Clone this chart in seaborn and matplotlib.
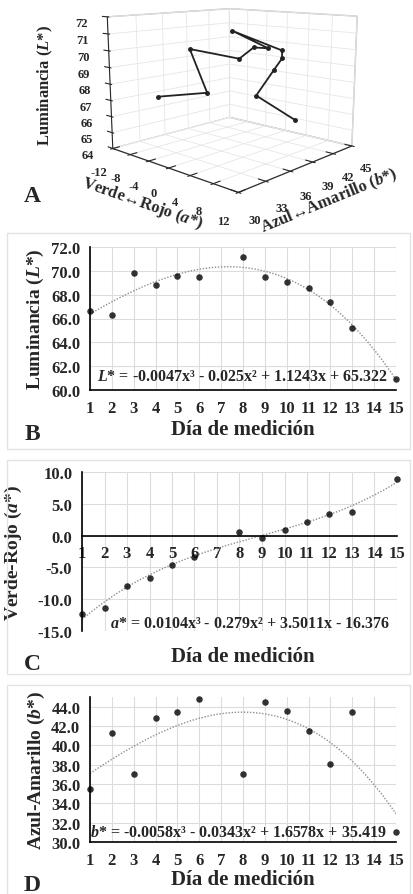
# -*- coding: utf-8 -*-
# color del producto por dia de medicion: L*, a*, b*
import numpy as np
import matplotlib
matplotlib.use("Agg")
import matplotlib.pyplot as plt
from matplotlib.patches import Rectangle
import seaborn as sns

sns.set_style("white")
plt.rcParams['font.family'] = ['Liberation Serif', 'DejaVu Serif']
plt.rcParams['font.weight'] = 'bold'
plt.rcParams['axes.labelweight'] = 'bold'
plt.rcParams['axes.unicode_minus'] = False
plt.rcParams['mathtext.fontset'] = 'custom'
plt.rcParams['mathtext.it'] = 'Liberation Serif:italic:bold'
plt.rcParams['mathtext.rm'] = 'Liberation Serif:bold'

dias = [1, 2, 3, 4, 5, 6, 8, 9, 10, 11, 12, 13, 15]
L_star = [66.6, 66.3, 69.8, 68.8, 69.6, 69.5, 71.2, 69.5, 69.1, 68.6, 67.4, 65.2, 60.9]
a_star = [-12.4, -11.4, -7.9, -6.6, -4.6, -3.4, 0.6, -0.3, 0.9, 2.1, 3.4, 3.7, 8.9]
b_star = [35.5, 41.3, 37.0, 42.8, 43.5, 44.8, 37.0, 44.5, 43.6, 41.5, 38.1, 43.5, 31.0]

eq_L = r"$L$* = -0.0047x³ - 0.025x² + 1.1243x + 65.322"
eq_a = r"$a$* = 0.0104x³ - 0.279x² + 3.5011x - 16.376"
eq_b = r"$b$* = -0.0058x³ - 0.0343x² + 1.6578x + 35.419"

W, H = 413, 895
fig = plt.figure(figsize=(W / 100, H / 100), dpi=100)
fig.patch.set_facecolor('white')

def px(x0, y0, x1, y1):
    # pixel box -> figure fraction [left, bottom, width, height]
    return [x0 / W, 1 - y1 / H, (x1 - x0) / W, (y1 - y0) / H]

# marcos grises de los paneles B, C, D
for y0, y1 in [(234, 450), (461, 675), (686, 905)]:
    fig.patches.append(Rectangle((7 / W, 1 - y1 / H), 403 / W, (y1 - y0) / H,
                                 transform=fig.transFigure, fill=False,
                                 edgecolor='#e3e3e3', lw=1.0))

# ---- panel A (3D) ----
zlim = (64, 72)
sel = [i for i, l in enumerate(L_star) if zlim[0] <= l <= zlim[1]]  # el dia 15 queda fuera del eje
ax3 = fig.add_axes(px(25, -30, 435, 205), projection='3d')
ax3.set_proj_type('persp', focal_length=0.45)
ax3.plot([a_star[i] for i in sel], [b_star[i] for i in sel], [L_star[i] for i in sel],
         color='#222222', lw=1.3, marker='o', ms=2.5)
ax3.set_xlim(-12, 12)
ax3.set_ylim(30, 45)
ax3.set_zlim(*zlim)
xt = np.arange(-12, 13, 4)
yt = np.arange(30, 46, 3)
zt = np.arange(64, 73, 1)
ax3.set_xticks(xt, [str(v) for v in xt], fontweight='bold', fontsize=9)
ax3.set_yticks(yt, [str(v) for v in yt], fontweight='bold', fontsize=9)
ax3.set_zticks(zt, [str(v) for v in zt], fontweight='bold', fontsize=9)
ax3.view_init(elev=11, azim=-47)
ax3.set_box_aspect((1, 1, 0.77), zoom=1.15)
ax3.zaxis._axinfo['juggled'] = (1, 2, 0)
for axis in (ax3.xaxis, ax3.yaxis, ax3.zaxis):
    axis.set_pane_color((1, 1, 1, 1))
    axis.pane.set_edgecolor('#bbbbbb')
    axis._axinfo['grid']['color'] = '#e6e6e6'
    axis._axinfo['grid']['linewidth'] = 0.6
    axis._axinfo['tick']['outward_factor'] = 0.6
ax3.xaxis.set_rotate_label(True)
ax3.yaxis.set_rotate_label(True)
ax3.zaxis.set_rotate_label(False)
ax3.tick_params(pad=1)
ax3.set_xlabel("Verde↔Rojo ($a$*)", fontsize=12, labelpad=-5)
ax3.set_ylabel("Azul↔Amarillo ($b$*)", fontsize=12, labelpad=-5)
ax3.set_zlabel("Luminancia ($L$*)", fontsize=12, labelpad=2, rotation=90)
fig.text(32 / W, 1 - 197 / H, "A", fontsize=17, fontweight='bold', ha='center', va='center')

def panel(rect, y, ylim, yticks, ylabel, ylab_x, eq, eq_xy, letter, letter_y, xlab_y, zero_axis=False):
    ax = fig.add_axes(rect)
    sns.regplot(x=dias, y=y, order=3, ci=None, truncate=True, ax=ax,
                scatter_kws=dict(s=22, color='black', zorder=4, clip_on=False, linewidths=0),
                line_kws=dict(color='#8f8f8f', lw=1.0, ls=(0, (1, 1.2))))
    ax.set_xlim(1, 15)
    ax.set_ylim(*ylim)
    ax.set_xticks(range(1, 16))
    ax.set_yticks(yticks)
    ax.set_yticklabels([f"{v:.1f}" for v in yticks])
    ax.grid(True, color='#dcdcdc', lw=0.8)
    ax.set_axisbelow(True)
    for s in ['top', 'right']:
        ax.spines[s].set_visible(False)
    for s in ['left', 'bottom']:
        ax.spines[s].set_color('black')
        ax.spines[s].set_linewidth(1.2)
    if zero_axis:
        ax.spines['bottom'].set_position(('data', 0))
    ax.tick_params(axis='x', direction='inout', length=6, width=1.2, labelsize=12, pad=4)
    ax.tick_params(axis='y', direction='out', length=5, width=1.2, labelsize=12, pad=2)
    ax.set_ylabel(ylabel, fontsize=14)
    ax.yaxis.set_label_coords(ylab_x, 0.5)
    ax.set_xlabel("")
    fig.text(243 / W, 1 - xlab_y / H, "Día de medición", fontsize=15, fontweight='bold',
             ha='center', va='center')
    ax.text(eq_xy[0], eq_xy[1], eq, transform=ax.transAxes, fontsize=11.5,
            ha='left', va='center', zorder=5)
    fig.text(32 / W, 1 - letter_y / H, letter, fontsize=17, fontweight='bold',
             ha='center', va='center')
    return ax

panel(px(90, 248, 396, 391), L_star, (60, 72), np.arange(60, 72.1, 2),
      "Luminancia ($L$*)", -0.144, eq_L, (0.023, 0.1), "B", 434, 430)
panel(px(82, 473, 397, 632), a_star, (-15, 10), np.arange(-15, 10.1, 5),
      "Verde-Rojo ($a$*)", -0.184, eq_a, (0.089, 0.05), "C", 665, 657, zero_axis=True)
panel(px(90, 698, 396, 843), b_star, (30, 45), np.arange(30, 44.1, 2),
      "Azul-Amarillo ($b$*)", -0.14, eq_b, (0.0, 0.069), "D", 886, 880)

fig.savefig("out.png", dpi=100, facecolor='white')
